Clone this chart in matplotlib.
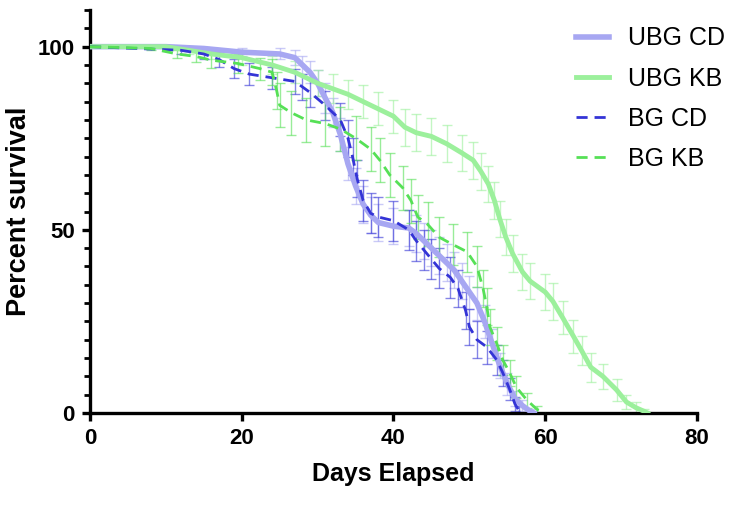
import numpy as np
import matplotlib
matplotlib.use('Agg')
import matplotlib.pyplot as plt
from matplotlib.ticker import MultipleLocator

plt.rcParams['font.family'] = ['Liberation Sans', 'DejaVu Sans']

# UBG CD
ubg_cd_days = [0, 10, 15, 20, 25, 27, 28, 29, 30, 31, 32, 33, 34, 35, 36, 37, 38, 40, 42, 43,
               44, 45, 46, 47, 48, 49, 50, 51, 52, 53, 54, 55, 56, 57, 58, 58.5]
ubg_cd_pct = [100, 100, 99.5, 98.5, 98, 97, 95, 93, 90, 86, 82, 76, 68, 62, 57, 54, 52, 51, 50.5, 49,
              47, 45, 43, 41, 39, 36, 33, 30, 25, 19, 13, 8, 4, 2, 0.5, 0]
ubg_cd_err = [0, 0, 0.5, 1, 1.5, 2, 2.5, 3, 3.5, 4, 4, 4.5, 4.5, 5, 5, 5, 5, 5, 5, 5,
              5, 5, 5, 5, 5, 5, 4.5, 4.5, 4.5, 4, 3.5, 3, 2, 1.5, 0.5, 0]

# UBG KB
ubg_kb_days = [0, 10, 13, 16, 20, 24, 27, 30, 32, 34, 36, 38, 40, 41.5, 43, 45, 47, 49, 50.5, 51.5,
               52.5, 53.3, 54, 54.8, 55.7, 57, 58, 60, 61, 62.3, 63.7, 64.8, 66, 67.6, 69.4, 70.7,
               72, 73, 73.5]
ubg_kb_pct = [100, 100, 99, 98, 97, 95, 93, 90, 88.5, 87, 85, 83, 81, 78, 76.5, 75.5, 73.5, 71, 69, 66,
              62.5, 58, 53, 48, 43.5, 38.5, 36, 33, 30.5, 26, 21, 17, 12.5, 10, 6.3, 3,
              1.4, 0.5, 0]
ubg_kb_err = [0, 0, 1, 1.5, 2, 2.5, 3, 3.5, 4, 4, 4.5, 4.5, 4.5, 5, 5, 5, 5, 5, 5, 5,
              5, 5, 5, 5, 5, 5, 5, 5, 5, 4.5, 4.5, 4, 4, 3.5, 3, 2,
              1.5, 0.5, 0]

# BG CD
bg_cd_days = [0, 12, 15, 17, 19, 21, 24, 27, 28, 29, 31, 33, 34, 34.6, 35.2, 36, 37, 38, 40, 42,
              43, 44, 45, 46, 47.5, 48.5, 49.5, 50, 51, 52.3, 53.6, 54.4, 55.3, 56, 56.5, 57]
bg_cd_pct = [100, 99, 98, 96.5, 94, 92.5, 91.5, 90.5, 89, 87.5, 84, 80, 75, 70, 64, 58, 54.5, 53.5, 52.5, 50,
             47, 44.5, 42, 39.5, 37, 34, 28, 23.5, 20, 18, 14.5, 11, 6.5, 2.5, 0.8, 0]
bg_cd_err = [0, 1, 1.5, 2, 2.5, 3, 3, 3.5, 3.5, 4, 4, 4.5, 5, 5, 5, 5.5, 5.5, 5.5, 5.5, 5.5,
             5.5, 5.5, 5.5, 5.5, 5.5, 5, 5, 5, 5, 4.5, 4, 3.5, 3, 2, 1, 0]

# BG KB
bg_kb_days = [0, 8, 11.5, 14, 16, 19.5, 22.4, 24, 24.6, 25, 26.5, 28.5, 31, 33, 35, 37, 38.2, 39.5, 41.2, 42.3,
              43.2, 44.5, 46, 47.8, 49.7, 51, 51.8, 52.3, 52.7, 53.6, 54.4, 55.3, 56.2, 57.6, 58.9, 60]
bg_kb_pct = [100, 99.5, 98, 97.3, 96.3, 95.4, 94, 93, 88, 84, 82, 80, 79, 77.5, 75, 72, 69, 65, 61.5, 58,
             53.5, 51.5, 48, 46, 44, 40, 34, 29, 23.5, 19, 14.5, 11, 7, 3.5, 1, 0]
bg_kb_err = [0, 0.5, 1, 1.5, 2, 2.5, 3, 3.5, 5, 6, 6, 6, 6, 6, 6, 6, 6, 6, 6, 6,
             6, 6, 5.5, 5.5, 5.5, 5.5, 5, 5, 5, 4.5, 4, 3.5, 3, 2, 1, 0]

fig = plt.figure(figsize=(7.31, 5.13), dpi=100)
ax = fig.add_axes([0.1231, 0.1949, 0.8304, 0.7856])

series = [
    ('UBG CD', ubg_cd_days, ubg_cd_pct, ubg_cd_err, '#a7a7f2', '-', 4.0),
    ('UBG KB', ubg_kb_days, ubg_kb_pct, ubg_kb_err, '#9cf09c', '-', 3.5),
    ('BG CD', bg_cd_days, bg_cd_pct, bg_cd_err, '#3434d6', (0, (4, 2.5)), 2.0),
    ('BG KB', bg_kb_days, bg_kb_pct, bg_kb_err, '#56e056', (0, (4, 2.5)), 2.0),
]

for name, d, p, e, c, ls, lw in series:
    d = np.array(d); p = np.array(p); e = np.array(e)
    m = e > 0
    ax.errorbar(d[m], p[m], yerr=e[m], fmt='none', ecolor=c, elinewidth=1.0,
                capsize=3.5, capthick=1.0, alpha=0.6, zorder=2)
    ax.plot(d, p, color=c, linestyle=ls, linewidth=lw, label=name, zorder=3)

ax.set_xlim(0, 80)
ax.set_ylim(0, 110)
ax.set_xticks([0, 20, 40, 60, 80])
ax.set_yticks([0, 50, 100])
ax.yaxis.set_minor_locator(MultipleLocator(5))

for s in ['top', 'right']:
    ax.spines[s].set_visible(False)
for s in ['left', 'bottom']:
    ax.spines[s].set_linewidth(2.4)

ax.tick_params(axis='both', which='major', length=6, width=2.4, labelsize=16, pad=5)
ax.tick_params(axis='y', which='minor', length=4.5, width=2.0)
for lab in ax.get_xticklabels() + ax.get_yticklabels():
    lab.set_fontweight('bold')

ax.set_xlabel('Days Elapsed', fontsize=18, fontweight='bold', labelpad=9)
ax.set_ylabel('Percent survival', fontsize=19.5, fontweight='bold', labelpad=4)

leg = ax.legend(loc='upper left', bbox_to_anchor=(0.764, 1.015), frameon=False,
                fontsize=18, handlelength=1.3, handletextpad=0.75, labelspacing=0.65)

fig.savefig('out.png', dpi=100)
